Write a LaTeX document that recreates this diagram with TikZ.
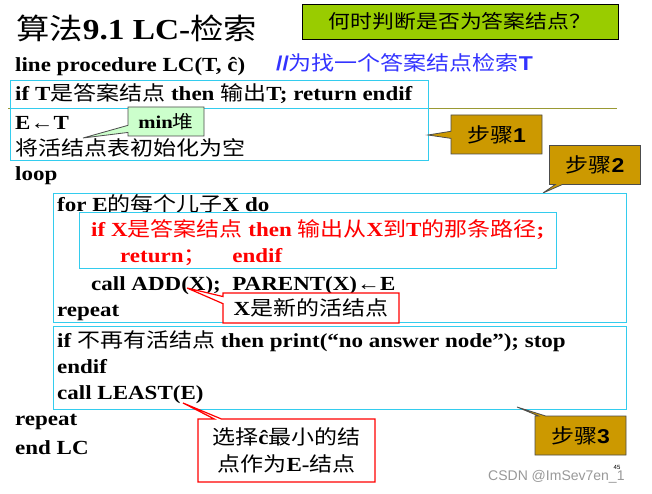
\documentclass[tikz,border=0pt]{standalone}
\usepackage{fontspec}
\setmainfont{Liberation Serif}[FakeStretch=1.15]
\newfontfamily\cj{Noto Sans CJK SC}[FakeStretch=1.15]
\newfontfamily\sansf{Liberation Sans}[FakeStretch=1.15]
\newfontfamily\plainsans{Liberation Sans}
\usetikzlibrary{shapes.callouts}
\definecolor{cyanb}{HTML}{33CCEE}
\definecolor{gold}{HTML}{CC9900}
\definecolor{lgreen}{HTML}{CCFFCC}
\definecolor{ygreen}{HTML}{99CC00}
\definecolor{olive}{HTML}{999933}
\definecolor{cblue}{HTML}{3333FF}
\newcommand{\C}[1]{{\cj\mdseries #1}}
\begin{document}
\begin{tikzpicture}[x=1pt,y=-1pt,
  code/.style={anchor=west,inner sep=0pt,font=\fontsize{20}{22}\selectfont\bfseries},
  rcode/.style={code,text=red},
  cbox/.style={draw=cyanb,line width=0.8pt},
  stepc/.style={rectangle callout,draw=black!70,fill=gold,line width=0.8pt,minimum width=91pt,minimum height=39pt,font=\fontsize{20}{22}\selectfont\bfseries},
  redc/.style={rectangle callout,draw=red,fill=white,line width=1.2pt,font=\fontsize{20}{27}\selectfont\bfseries,align=center}]
\useasboundingbox (0,0) rectangle (652,494);
\fill[white] (0,0) rectangle (652,494);
\node[anchor=west,inner sep=0pt,font=\fontsize{29}{32}\selectfont\bfseries] (title) at (16,28) {\C{算法}9.1 LC-\C{检索}};
\node[draw=black,fill=ygreen,line width=0.8pt,minimum width=316pt,minimum height=35pt,font=\fontsize{19}{21}\selectfont\cj] (q) at (460,21.5) {何时判断是否为答案结点？};
\node[code] (l1) at (15,67) {line procedure LC(T, ĉ)};
\node[anchor=west,inner sep=0pt,text=cblue,font=\fontsize{20}{22}\selectfont\sansf\bfseries] (cm) at (276,63) {//\C{为找一个答案结点检索}T};
\draw[cbox] (10,80) rectangle (428,108);
\draw[olive,line width=0.8pt] (8,108) -- (617,108);
\node[code] (l2) at (15,94) {if T\C{是答案结点} then \C{输出}T; return endif};
\draw[cbox] (10,108) rectangle (428,160);
\node[code] (l3) at (15,123) {E←T};
\node[code] (l4) at (15,148) {\C{将活结点表初始化为空}};
\node[rectangle callout,draw=black!70,fill=lgreen,line width=0.8pt,minimum width=76pt,minimum height=29pt,font=\fontsize{18}{20}\selectfont\bfseries,callout absolute pointer={(83,138)}] (mh) at (166,121.5) {min\C{堆}};
\node[stepc,callout absolute pointer={(428,135)}] (s1) at (496.5,134.5) {\C{步骤}\sansf 1};
\node[stepc,callout absolute pointer={(543,193)}] (s2) at (595,165) {\C{步骤}\sansf 2};
\node[code] (l5) at (15,176) {loop};
\draw[cbox] (53,193) rectangle (626,322);
\node[code] (l6) at (57,204) {for E\C{的每个儿子}X do};
\draw[cbox] (79,212) rectangle (556,268);
\node[rcode] (l7) at (91,230) {if X\C{是答案结点} then \C{输出从}X\C{到}T\C{的那条路径};};
\node[rcode] (l8) at (120,257) {return\C{；}\quad\ endif};
\node[code] (l9) at (91,286) {call ADD(X);\ \ PARENT(X)←E};
\node[code] (l10) at (57,313) {repeat};
\node[redc,minimum width=176pt,minimum height=30pt,callout absolute pointer={(187,288)}] (xn) at (311,308) {X\C{是新的活结点}};
\draw[cbox] (53,326) rectangle (626,409);
\node[code] (l11) at (57,341) {if \C{不再有活结点} then print(“no answer node”); stop};
\node[code] (l12) at (57,367) {endif};
\node[code] (l13) at (57,395) {call LEAST(E)};
\node[stepc,callout absolute pointer={(517,407)}] (s3) at (580.5,435.5) {\C{步骤}\sansf 3};
\node[code] (l14) at (15,422) {repeat};
\node[code] (l15) at (15,448) {end LC};
\node[redc,minimum width=177pt,minimum height=63pt,callout absolute pointer={(183,403)}] (sel) at (286.5,450.5) {\C{选择}ĉ\C{最小的结}\\\C{点作为}E-\C{结点}};
\node[anchor=west,inner sep=0pt,text=black!40,font=\fontsize{14}{15}\selectfont\plainsans] (wm) at (488,477) {CSDN @ImSev7en\_1};
\node[inner sep=0pt,font=\fontsize{6}{7}\selectfont\plainsans] (pg) at (617,467) {45};
\end{tikzpicture}
\end{document}
